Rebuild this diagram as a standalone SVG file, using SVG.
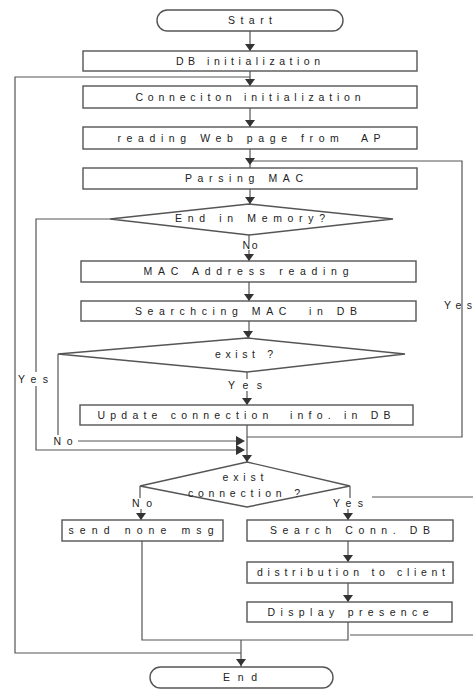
<svg xmlns="http://www.w3.org/2000/svg" width="473" height="690" viewBox="0 0 473 690">
<defs>
<style>
.box{fill:#fff;stroke:#555;stroke-width:1.4}
.ln{fill:none;stroke:#555;stroke-width:1.2}
.t{font-family:"Liberation Sans",Arial,sans-serif;font-size:10.5px;fill:#222;text-anchor:middle}
.ah{fill:#333}
</style>
<polygon id="down" points="-5,0 5,0 0,7"/>
<polygon id="right" points="0,-5 0,5 9,0"/>
</defs>
<rect width="473" height="690" fill="#fff"/>

<g id="connectors">
<path class="ln" d="M250,31 V51"/>
<path class="ln" d="M250,71 V86"/>
<path class="ln" d="M250,108 V127"/>
<path class="ln" d="M250,149 V168"/>
<path class="ln" d="M250,189 V204"/>
<path class="ln" d="M249,235 V241 M249,250 V261"/>
<path class="ln" d="M249,282 V301"/>
<path class="ln" d="M249,321 V338"/>
<path class="ln" d="M247,372 V379 M247,391 V405"/>
<path class="ln" d="M247,425 V462"/>
<path class="ln" d="M247,437 H462 V300 M462,311 V161 H250"/>
<path class="ln" d="M58,354 V435 M78,441 H238"/>
<path class="ln" d="M110,219 H36 V372 M36,386 V450 H238"/>
<path class="ln" d="M140,486 V498 M141,509 V520"/>
<path class="ln" d="M350,486 V498 M348,509 V520"/>
<path class="ln" d="M372,497 H473"/>
<path class="ln" d="M348,541 V562"/>
<path class="ln" d="M348,583 V602"/>
<path class="ln" d="M348,622 V640 H142 V541"/>
<path class="ln" d="M350,635 H473"/>
<path class="ln" d="M241,640 V667"/>
<path class="ln" d="M241,653 H15 V77 H250"/>
<use href="#down" class="ah" x="250" y="44"/>
<use href="#down" class="ah" x="250" y="79"/>
<use href="#down" class="ah" x="250" y="120"/>
<use href="#down" class="ah" x="250" y="158"/>
<use href="#down" class="ah" x="250" y="197"/>
<use href="#down" class="ah" x="249" y="254"/>
<use href="#down" class="ah" x="249" y="294"/>
<use href="#down" class="ah" x="248" y="331"/>
<use href="#down" class="ah" x="247" y="398"/>
<use href="#right" class="ah" x="236" y="441"/>
<use href="#right" class="ah" x="236" y="450"/>
<use href="#down" class="ah" x="247" y="455"/>
<use href="#down" class="ah" x="141" y="513"/>
<use href="#down" class="ah" x="348" y="513"/>
<use href="#down" class="ah" x="348" y="555"/>
<use href="#down" class="ah" x="348" y="595"/>
<use href="#down" class="ah" x="241" y="659"/>
</g>

<g id="start">
<rect class="box" x="157" y="10" width="186" height="21" rx="10.5"/>
<text class="t" x="250" y="24" textLength="44" lengthAdjust="spacing">Start</text>
</g>
<g id="db-init">
<rect class="box" x="83" y="51" width="334" height="20"/>
<text class="t" x="248" y="65" textLength="144" lengthAdjust="spacing">DB initialization</text>
</g>
<g id="conn-init">
<rect class="box" x="83" y="86" width="334" height="22"/>
<text class="t" x="248" y="101" textLength="225" lengthAdjust="spacing">Conneciton initialization</text>
</g>
<g id="reading">
<rect class="box" x="83" y="127" width="334" height="22"/>
<text class="t" x="249" y="142" textLength="263" lengthAdjust="spacing" xml:space="preserve">reading Web page from  AP</text>
</g>
<g id="parsing">
<rect class="box" x="83" y="168" width="334" height="21"/>
<text class="t" x="244" y="182" textLength="118" lengthAdjust="spacing">Parsing MAC</text>
</g>
<g id="end-in-memory">
<polygon class="box" points="249,204 393,219 249,235 110,219"/>
<text class="t" x="250" y="222" textLength="150" lengthAdjust="spacing">End in Memory?</text>
</g>
<g id="mac-reading">
<rect class="box" x="81" y="261" width="335" height="21"/>
<text class="t" x="246" y="275" textLength="205" lengthAdjust="spacing">MAC Address reading</text>
</g>
<g id="searching">
<rect class="box" x="81" y="301" width="335" height="20"/>
<text class="t" x="246" y="315" textLength="222" lengthAdjust="spacing" xml:space="preserve">Searchcing MAC  in DB</text>
</g>
<g id="exist">
<polygon class="box" points="247,338 405,354 247,372 58,354"/>
<text class="t" x="244" y="358" textLength="58" lengthAdjust="spacing">exist ?</text>
</g>
<g id="update">
<rect class="box" x="80" y="405" width="333" height="20"/>
<text class="t" x="244" y="419" textLength="293" lengthAdjust="spacing" xml:space="preserve">Update connection  info. in DB</text>
</g>
<g id="exist-connection">
<polygon class="box" points="247,462 350,486 247,507 140,486"/>
<text class="t" x="243" y="481" textLength="41" lengthAdjust="spacing">exist</text>
<text class="t" x="244" y="497" textLength="112" lengthAdjust="spacing">connection ?</text>
</g>
<g id="send-none">
<rect class="box" x="62" y="520" width="161" height="21"/>
<text class="t" x="141" y="534" textLength="145" lengthAdjust="spacing">send none msg</text>
</g>
<g id="search-conn">
<rect class="box" x="247" y="520" width="206" height="21"/>
<text class="t" x="350" y="534" textLength="160" lengthAdjust="spacing">Search Conn. DB</text>
</g>
<g id="distribution">
<rect class="box" x="247" y="562" width="206" height="21"/>
<text class="t" x="351" y="576" textLength="188" lengthAdjust="spacing">distribution to client</text>
</g>
<g id="display">
<rect class="box" x="247" y="602" width="205" height="20"/>
<text class="t" x="348" y="616" textLength="161" lengthAdjust="spacing">Display presence</text>
</g>
<g id="end">
<rect class="box" x="150" y="667" width="183" height="21" rx="10.5"/>
<text class="t" x="240" y="681" textLength="34" lengthAdjust="spacing">End</text>
</g>

<g id="labels">
<text class="t" x="250" y="249" textLength="15" lengthAdjust="spacing">No</text>
<text class="t" x="245" y="389" textLength="34" lengthAdjust="spacing">Yes</text>
<text class="t" x="33" y="383" textLength="30" lengthAdjust="spacing">Yes</text>
<text class="t" x="63" y="445" textLength="19" lengthAdjust="spacing">No</text>
<text class="t" x="458" y="309" textLength="28" lengthAdjust="spacing">Yes</text>
<text class="t" x="142" y="507" textLength="20" lengthAdjust="spacing">No</text>
<text class="t" x="348" y="507" textLength="30" lengthAdjust="spacing">Yes</text>
</g>
</svg>
